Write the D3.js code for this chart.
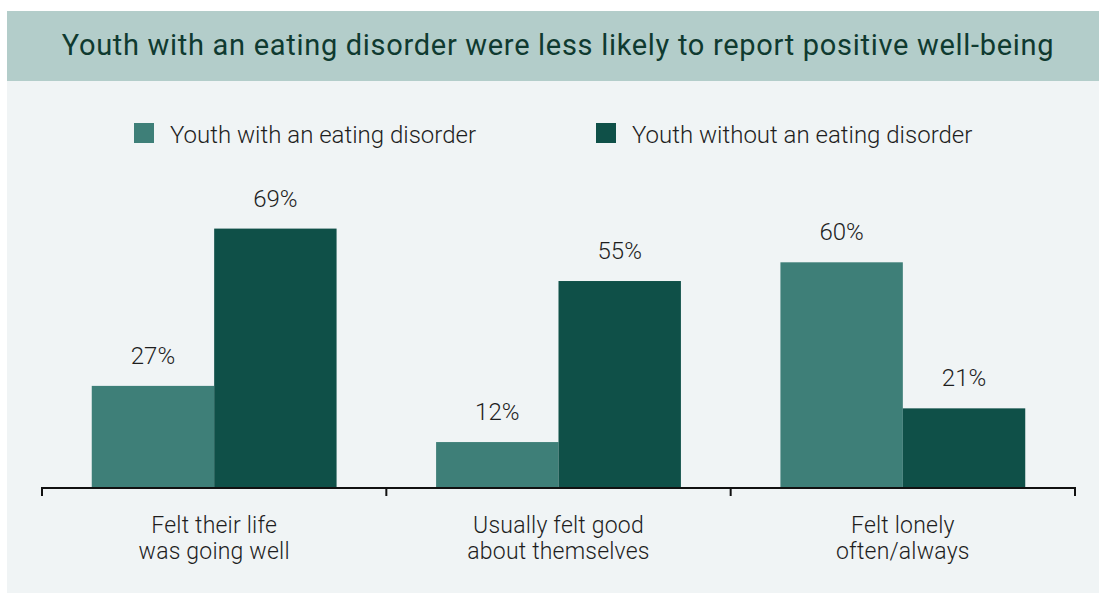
<!DOCTYPE html>
<html>
<head>
<meta charset="utf-8">
<script src="https://cdn.jsdelivr.net/npm/d3@7"></script>
<style>
  html, body { margin: 0; padding: 0; background: #ffffff; }
  svg { display: block; font-family: Roboto, "Noto Sans", sans-serif; }
</style>
</head>
<body>
<svg id="chart" width="1099" height="593"></svg>
<script>
// Survey results: share of youth reporting each well-being measure
const categories = [
  ["Felt their life", "was going well"],
  ["Usually felt good", "about themselves"],
  ["Felt lonely", "often/always"]
];
const seriesNames = ["Youth with an eating disorder", "Youth without an eating disorder"];
const withDisorder = [27, 12, 60];
const withoutDisorder = [69, 55, 21];
const seriesColors = ["#3e7f78", "#0f5048"];
const titleText = "Youth with an eating disorder were less likely to report positive well-being";

const svg = d3.select("#chart");
const W = 1099, H = 593;

// Panel background and title band
svg.append("rect").attr("x", 7).attr("y", 11).attr("width", W - 7).attr("height", H - 11).attr("fill", "#f0f4f5");
svg.append("rect").attr("x", 7).attr("y", 11).attr("width", W - 7).attr("height", 70).attr("fill", "#b3cdca");
svg.append("text")
  .attr("x", 558).attr("y", 55)
  .attr("text-anchor", "middle")
  .attr("font-size", 29)
  .attr("letter-spacing", 0.7)
  .attr("fill", "#0f3a30")
  .text(titleText);

// Scales
const x0 = d3.scaleBand().domain(d3.range(categories.length)).range([42, 1075]).paddingInner(0).paddingOuter(0);
const x1 = d3.scaleBand().domain([0, 1]).range([0, x0.bandwidth()]).paddingOuter(50 / 123).paddingInner(0);
const y = d3.scaleLinear().domain([0, 100]).range([487, 112.5]);

const values = [withDisorder, withoutDisorder];

const groups = svg.append("g").selectAll("g")
  .data(categories.map((c, i) => i))
  .join("g")
  .attr("transform", i => `translate(${x0(i)},0)`);

groups.selectAll("rect")
  .data(i => [0, 1].map(s => ({ s, v: values[s][i] })))
  .join("rect")
  .attr("x", d => x1(d.s))
  .attr("y", d => y(d.v))
  .attr("width", x1.bandwidth())
  .attr("height", d => y(0) - y(d.v))
  .attr("fill", d => seriesColors[d.s]);

groups.selectAll("text.val")
  .data(i => [0, 1].map(s => ({ s, v: values[s][i] })))
  .join("text")
  .attr("class", "val")
  .attr("x", d => x1(d.s) + x1.bandwidth() / 2)
  .attr("y", d => y(d.v) - 22)
  .attr("text-anchor", "middle")
  .attr("font-size", 24)
  .attr("font-weight", 300)
  .attr("fill", "#1e1e1e")
  .text(d => d.v + "%");

// Category axis with boundary ticks
const axisY = 488;
svg.append("line")
  .attr("x1", x0.range()[0]).attr("x2", x0.range()[1])
  .attr("y1", axisY).attr("y2", axisY)
  .attr("stroke", "#111").attr("stroke-width", 2);
const boundaries = categories.map((c, i) => x0(i)).concat([x0.range()[1]]);
svg.append("g").selectAll("line")
  .data(boundaries)
  .join("line")
  .attr("x1", d => d).attr("x2", d => d)
  .attr("y1", axisY - 1).attr("y2", axisY + 8)
  .attr("stroke", "#111").attr("stroke-width", 2);

const catLabels = svg.append("g").selectAll("text")
  .data(categories.map((c, i) => ({ c, i })))
  .join("text")
  .attr("x", d => x0(d.i) + x0.bandwidth() / 2)
  .attr("y", 533)
  .attr("text-anchor", "middle")
  .attr("font-size", 23)
  .attr("letter-spacing", 0.2)
  .attr("font-weight", 300)
  .attr("fill", "#1e1e1e");
catLabels.selectAll("tspan")
  .data(d => d.c.map((line, k) => ({ line, k, x: x0(d.i) + x0.bandwidth() / 2 })))
  .join("tspan")
  .attr("x", d => d.x)
  .attr("dy", d => d.k === 0 ? 0 : 26)
  .text(d => d.line);

// Legend
const legendX = [134, 596];
const legend = svg.append("g").selectAll("g")
  .data(seriesNames.map((n, i) => ({ n, i })))
  .join("g")
  .attr("transform", d => `translate(${legendX[d.i]},123)`);
legend.append("rect").attr("width", 20).attr("height", 20).attr("fill", d => seriesColors[d.i]);
legend.append("text")
  .attr("x", 36).attr("y", 20)
  .attr("font-size", 24)
  .attr("font-weight", 300)
  .attr("fill", "#1e1e1e")
  .text(d => d.n);
</script>
</body>
</html>
